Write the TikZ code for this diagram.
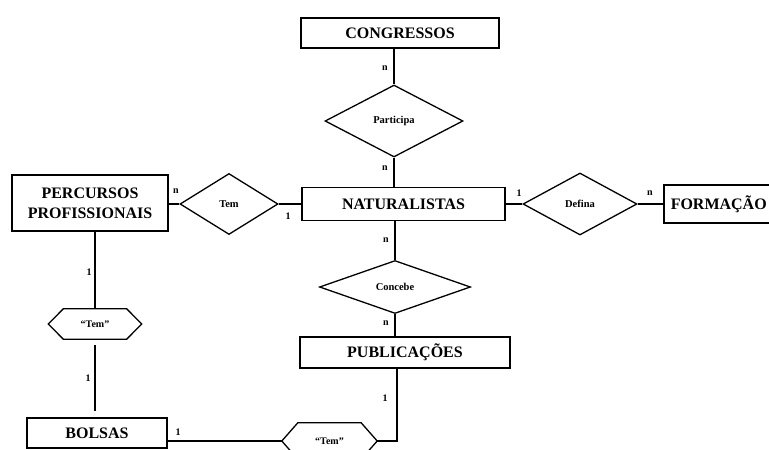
\documentclass[tikz,border=0pt]{standalone}
\usepackage{fontspec}
\setmainfont{Liberation Serif}
\usetikzlibrary{shapes.geometric}
\tikzset{
  entity/.style={draw, line width=1.5pt, rectangle, inner sep=0pt, font=\fontsize{16}{20}\selectfont\bfseries, align=center},
  rel/.style={draw, line width=1.3pt, diamond, inner sep=0pt, font=\fontsize{10.5}{12}\selectfont\bfseries},
  hexbox/.style={rectangle, inner sep=0pt, font=\fontsize{10}{12}\selectfont\bfseries},
  hexline/.style={line width=1.3pt, line join=miter},
  conn/.style={line width=1.3pt},
  card/.style={font=\fontsize{10}{11}\selectfont\bfseries, inner sep=0pt}
}
\begin{document}
\begin{tikzpicture}[x=1pt,y=-1pt]
\useasboundingbox (0,0) rectangle (769,450);
% entities
\node[entity, minimum width=198pt, minimum height=30pt] (cong) at (400,33) {CONGRESSOS};
\node[entity, minimum width=203pt, minimum height=33pt] (nat) at (403.5,204) {NATURALISTAS};
\node[entity, minimum width=156pt, minimum height=56pt] (perc) at (90,203) {PERCURSOS\\PROFISSIONAIS};
\node[entity, minimum height=38pt, anchor=west, inner xsep=7pt] (form) at (663,204) {FORMAÇÃO\hspace{12pt}};
\node[entity, minimum width=210pt, minimum height=31pt] (pub) at (405,352.5) {PUBLICAÇÕES};
\node[entity, minimum width=140pt, minimum height=30pt] (bol) at (97,433) {BOLSAS};
% relationships
\node[rel, minimum width=138pt, minimum height=72pt] (part) at (394,121) {Participa};
\node[rel, minimum width=98pt, minimum height=61pt] (tem) at (229,204) {Tem};
\node[rel, minimum width=114pt, minimum height=62pt] (def) at (580,204) {Defina};
\node[rel, minimum width=151pt, minimum height=53pt] (conc) at (395,287) {Concebe};
% hexagons
\node[hexbox, minimum width=93pt, minimum height=30pt] (hexa) at (95,324) {“Tem”};
\draw[hexline] (hexa.west) -- ([xshift=15pt]hexa.north west) -- ([xshift=-15pt]hexa.north east) -- (hexa.east) -- ([xshift=-15pt]hexa.south east) -- ([xshift=15pt]hexa.south west) -- cycle;
\node[hexbox, minimum width=95pt, minimum height=36pt] (hexb) at (329.5,441) {“Tem”};
\draw[hexline] (hexb.west) -- ([xshift=16pt]hexb.north west) -- ([xshift=-16pt]hexb.north east) -- (hexb.east) -- ([xshift=-16pt]hexb.south east) -- ([xshift=16pt]hexb.south west) -- cycle;
% connectors
\draw[conn] (part.north |- cong.south) -- (part.north);
\draw[conn] (part.south) -- (part.south |- nat.north);
\draw[conn] (perc.east |- tem.west) -- (tem.west);
\draw[conn] (tem.east) -- (tem.east -| nat.west);
\draw[conn] (nat.east |- def.west) -- (def.west);
\draw[conn] (def.east) -- (def.east -| form.west);
\draw[conn] (conc.north |- nat.south) -- (conc.north);
\draw[conn] (conc.south) -- (conc.south |- pub.north);
\draw[conn] (hexa.north |- perc.south) -- (hexa.north);
\draw[conn, shorten <=6pt, shorten >=6pt] (hexa.south) -- (hexa.south |- bol.north);
\draw[conn] (hexb.west -| bol.east) -- (hexb.west);
\coordinate (pubb) at ([xshift=-8pt]pub.south);
\draw[conn] (hexb.east) -| (pubb);
% cardinalities
\node[card] (c1) at (385,68) {n};
\node[card] (c2) at (385,168) {n};
\node[card] (c3) at (176,191) {n};
\node[card] (c4) at (288,216) {1};
\node[card] (c5) at (519,193) {1};
\node[card] (c6) at (650,193) {n};
\node[card] (c7) at (386,240) {n};
\node[card] (c8) at (386,323) {n};
\node[card] (c9) at (89,272) {1};
\node[card] (c10) at (88,378) {1};
\node[card] (c11) at (178,432) {1};
\node[card] (c12) at (385,398) {1};
\end{tikzpicture}
\end{document}
